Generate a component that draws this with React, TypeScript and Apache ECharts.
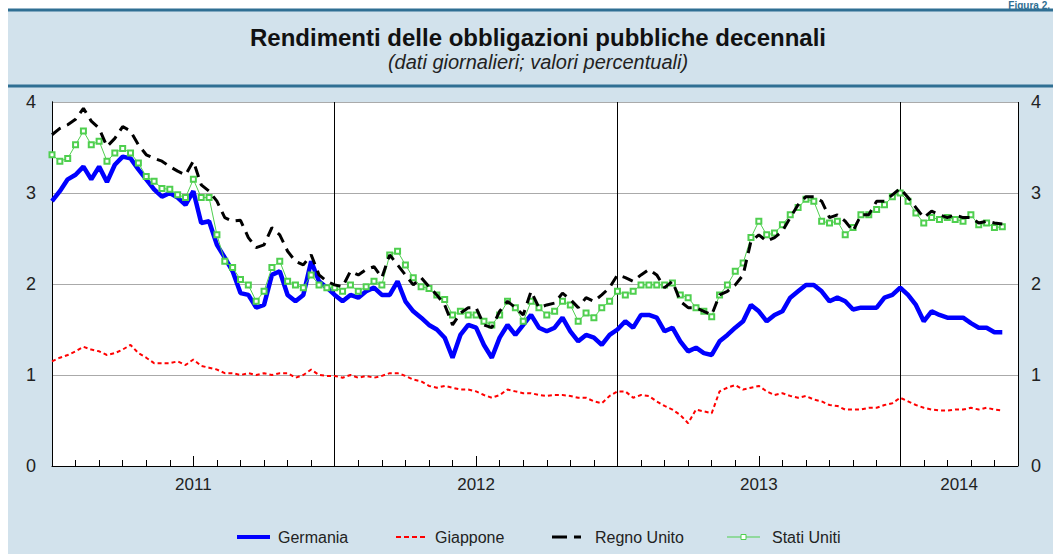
import React, { useEffect, useRef } from "react";
import * as echarts from "echarts";

// sampling points, in months since 1 Jan 2011 (one every third of a month)
const months: number[] = Array.from({ length: 122 }, (_, i) => i / 3);

const yearLabels: Record<string, string> = { "6": "2011", "18": "2012", "30": "2013", "38.5": "2014" };
const yTicks = [0, 1, 2, 3, 4];
const seriesNames = ["Germania", "Giappone", "Regno Unito", "Stati Uniti"];

const germania = [
  2.91, 3.02, 3.15, 3.2, 3.29, 3.15, 3.29, 3.12, 3.31, 3.4, 3.38, 3.26, 3.15, 3.04, 2.96, 3.0, 2.95, 2.87, 3.02, 2.67, 2.69, 2.43, 2.29, 2.14, 1.9,
  1.88, 1.74, 1.77, 2.1, 2.14, 1.88, 1.81, 1.88, 2.25, 2.03, 1.96, 1.88, 1.81, 1.88, 1.85, 1.92, 1.96, 1.88, 1.88, 2.03, 1.81, 1.7, 1.63, 1.55,
  1.5, 1.41, 1.19, 1.44, 1.55, 1.52, 1.33, 1.19, 1.41, 1.55, 1.44, 1.55, 1.66, 1.52, 1.48, 1.52, 1.63, 1.48, 1.37, 1.44, 1.41, 1.33, 1.44, 1.5,
  1.59, 1.52, 1.66, 1.66, 1.63, 1.48, 1.52, 1.37, 1.26, 1.3, 1.24, 1.22, 1.37, 1.44, 1.52, 1.59, 1.77, 1.7, 1.59, 1.66, 1.7, 1.85, 1.92, 1.99,
  1.99, 1.92, 1.81, 1.85, 1.81, 1.72, 1.74, 1.74, 1.74, 1.85, 1.88, 1.96, 1.88, 1.77, 1.59, 1.7, 1.66, 1.63, 1.63, 1.63, 1.57, 1.52, 1.52, 1.47, 1.47,
];
const giappone = [
  1.15, 1.19, 1.22, 1.26, 1.31, 1.28, 1.26, 1.22, 1.24, 1.28, 1.33, 1.24, 1.19, 1.13, 1.13, 1.13, 1.15, 1.11, 1.17, 1.1, 1.08, 1.06, 1.02, 1.02, 1.0,
  1.02, 1.0, 1.02, 1.0, 1.02, 1.02, 0.97, 1.0, 1.06, 1.0, 0.99, 0.99, 0.97, 1.0, 0.97, 0.99, 0.97, 0.99, 1.02, 1.02, 0.99, 0.95, 0.93, 0.88,
  0.86, 0.88, 0.86, 0.84, 0.84, 0.82, 0.78, 0.75, 0.78, 0.84, 0.82, 0.8, 0.8, 0.78, 0.77, 0.78, 0.78, 0.77, 0.75, 0.75, 0.71, 0.69, 0.77, 0.82,
  0.82, 0.75, 0.78, 0.77, 0.71, 0.66, 0.62, 0.56, 0.47, 0.62, 0.6, 0.58, 0.82, 0.86, 0.89, 0.84, 0.86, 0.88, 0.82, 0.78, 0.8, 0.77, 0.75, 0.77,
  0.73, 0.71, 0.67, 0.66, 0.62, 0.62, 0.62, 0.64, 0.64, 0.67, 0.69, 0.75, 0.71, 0.67, 0.64, 0.62, 0.61, 0.61, 0.62, 0.62, 0.64, 0.62, 0.64, 0.62, 0.61,
];
const regnoUnito = [
  3.64, 3.71, 3.75, 3.81, 3.93, 3.79, 3.71, 3.51, 3.6, 3.73, 3.68, 3.53, 3.42, 3.38, 3.35, 3.29, 3.24, 3.2, 3.35, 3.09, 3.02, 2.91, 2.73, 2.69, 2.7,
  2.51, 2.4, 2.43, 2.62, 2.54, 2.36, 2.25, 2.21, 2.32, 2.1, 2.03, 1.99, 1.97, 2.14, 2.1, 2.16, 2.19, 2.07, 2.32, 2.21, 2.1, 1.99, 2.07, 1.97,
  1.88, 1.77, 1.55, 1.68, 1.74, 1.74, 1.55, 1.52, 1.7, 1.81, 1.74, 1.66, 1.92, 1.74, 1.77, 1.79, 1.9, 1.83, 1.74, 1.85, 1.81, 1.88, 1.96, 2.1,
  2.07, 2.03, 2.1, 2.16, 2.1, 1.96, 2.03, 1.81, 1.74, 1.74, 1.7, 1.66, 1.88, 1.92, 1.99, 2.1, 2.47, 2.54, 2.47, 2.51, 2.58, 2.73, 2.87, 2.96,
  2.96, 2.91, 2.73, 2.76, 2.69, 2.58, 2.76, 2.76, 2.91, 2.91, 2.98, 3.05, 2.95, 2.84, 2.73, 2.8, 2.76, 2.73, 2.76, 2.73, 2.73, 2.67, 2.69, 2.67, 2.66,
];
const statiUniti = [
  3.42, 3.35, 3.38, 3.53, 3.68, 3.53, 3.57, 3.35, 3.44, 3.49, 3.44, 3.33, 3.18, 3.13, 3.05, 3.04, 2.98, 2.95, 3.15, 2.95, 2.95, 2.54, 2.25, 2.18, 2.05,
  1.99, 1.81, 1.92, 2.18, 2.25, 2.03, 1.99, 1.96, 2.1, 1.99, 1.96, 1.96, 1.92, 1.99, 1.92, 1.97, 2.03, 1.99, 2.32, 2.36, 2.21, 2.07, 1.97, 1.95,
  1.88, 1.83, 1.66, 1.7, 1.66, 1.66, 1.59, 1.55, 1.66, 1.81, 1.74, 1.59, 1.81, 1.74, 1.66, 1.7, 1.81, 1.77, 1.59, 1.68, 1.63, 1.74, 1.81, 1.92,
  1.88, 1.92, 1.99, 1.99, 1.99, 1.99, 2.01, 1.88, 1.85, 1.74, 1.7, 1.64, 1.88, 1.99, 2.14, 2.23, 2.51, 2.69, 2.54, 2.56, 2.65, 2.76, 2.84, 2.93,
  2.91, 2.69, 2.67, 2.69, 2.54, 2.62, 2.76, 2.76, 2.82, 2.87, 2.96, 3.0, 2.91, 2.78, 2.67, 2.73, 2.71, 2.73, 2.71, 2.69, 2.76, 2.65, 2.67, 2.62, 2.63,
];

const FONT = "'Liberation Sans', Arial, Helvetica, sans-serif";
const PANEL = "#d2e2ec";
const DARKBLUE = "#2f6f93";
const C_DE = "#0000ff";
const C_JP = "#ff0000";
const C_UK = "#000000";
const C_US = "#4fcf4f";

const pairs = (vals: number[]) => vals.map((v, i) => [months[i], v]);

function legendGraphics() {
  const y = 537;
  const txt = (x: number, text: string) => ({
    type: "text", silent: true, x, y,
    style: { text, fill: "#222", font: `16px ${FONT}`, textVerticalAlign: "middle" },
  });
  return [
    { type: "line", silent: true, shape: { x1: 237, y1: y, x2: 270, y2: y }, style: { stroke: C_DE, lineWidth: 4 } },
    txt(278, seriesNames[0]),
    { type: "line", silent: true, shape: { x1: 396, y1: y, x2: 428, y2: y }, style: { stroke: C_JP, lineWidth: 2, lineDash: [5, 3] } },
    txt(435, seriesNames[1]),
    { type: "line", silent: true, shape: { x1: 552, y1: y, x2: 581, y2: y }, style: { stroke: C_UK, lineWidth: 3, lineDash: [15, 7] } },
    txt(595, seriesNames[2]),
    { type: "line", silent: true, shape: { x1: 727, y1: y, x2: 760, y2: y }, style: { stroke: C_US, lineWidth: 1 } },
    { type: "rect", silent: true, shape: { x: 741, y: y - 2.5, width: 5, height: 5 }, style: { fill: "#fff", stroke: C_US, lineWidth: 1 } },
    txt(772, seriesNames[3]),
  ];
}

export default function App() {
  const ref = useRef<HTMLDivElement>(null);
  useEffect(() => {
    if (!ref.current) return;
    const chart = echarts.init(ref.current, undefined, { renderer: "svg" });
    const xBase = { type: "value", min: 0, max: 41, gridIndex: 0, position: "bottom" };
    chart.setOption({
      animation: false,
      textStyle: { fontFamily: FONT },
      graphic: [
        { type: "rect", silent: true, z: -10, shape: { x: 8, y: 10, width: 1045, height: 544 }, style: { fill: PANEL } },
        { type: "line", silent: true, shape: { x1: 8, y1: 10, x2: 1053, y2: 10 }, style: { stroke: DARKBLUE, lineWidth: 3 } },
        { type: "line", silent: true, shape: { x1: 8, y1: 86, x2: 1053, y2: 86 }, style: { stroke: DARKBLUE, lineWidth: 3 } },
        { type: "text", silent: true, x: 1050, y: 0, style: { text: "Figura 2.", fill: DARKBLUE, font: `bold 10px ${FONT}`, textAlign: "right", textVerticalAlign: "top" } },
        { type: "text", silent: true, x: 538, y: 25, style: { text: "Rendimenti delle obbligazioni pubbliche decennali", fill: "#111", font: `bold 24px ${FONT}`, textAlign: "center" } },
        { type: "text", silent: true, x: 538, y: 52, style: { text: "(dati giornalieri; valori percentuali)", fill: "#222", font: `italic 20px ${FONT}`, textAlign: "center" } },
        ...legendGraphics(),
      ],
      grid: { left: 52, right: 35, top: 102, bottom: 88, show: true, backgroundColor: "#fff", borderWidth: 0 },
      xAxis: [
        {
          ...xBase, interval: 0.5,
          axisLine: { show: true, lineStyle: { color: "#000", width: 1 } },
          axisTick: { show: false }, splitLine: { show: false },
          axisLabel: { show: true, fontSize: 17, color: "#222", margin: 10, fontFamily: FONT, formatter: (v: number) => yearLabels[String(v)] || "" },
        },
        {
          ...xBase, interval: 1,
          axisLine: { show: false }, axisLabel: { show: false }, splitLine: { show: false },
          axisTick: { show: true, inside: true, length: 6, lineStyle: { color: "#000", width: 1 } },
        },
        {
          ...xBase, interval: 6,
          axisLine: { show: false }, axisLabel: { show: false }, splitLine: { show: false },
          axisTick: { show: true, inside: true, length: 10, lineStyle: { color: "#000", width: 1 } },
        },
        {
          ...xBase, interval: 12,
          axisLine: { show: false }, axisLabel: { show: false }, axisTick: { show: false },
          splitLine: { show: true, lineStyle: { color: "#000", width: 1 } },
        },
      ],
      yAxis: [
        {
          type: "value", min: yTicks[0], max: yTicks[yTicks.length - 1], interval: 1, position: "left",
          axisLine: { show: true, lineStyle: { color: "#000", width: 1 } }, axisTick: { show: false },
          axisLabel: { fontSize: 18, color: "#222", margin: 16, fontFamily: FONT },
          splitLine: { show: true, lineStyle: { color: "#aaaaaa", width: 1 } },
        },
        {
          type: "value", min: yTicks[0], max: yTicks[yTicks.length - 1], interval: 1, position: "right",
          axisLine: { show: true, lineStyle: { color: "#000", width: 1 } }, axisTick: { show: false },
          axisLabel: { fontSize: 18, color: "#222", margin: 13, fontFamily: FONT },
          splitLine: { show: false },
        },
      ],
      series: [
        {
          name: seriesNames[0], type: "line", xAxisIndex: 0, yAxisIndex: 0, data: pairs(germania),
          symbol: "none", lineStyle: { color: C_DE, width: 4.5 }, itemStyle: { color: C_DE }, z: 2,
        },
        {
          name: seriesNames[1], type: "line", xAxisIndex: 0, yAxisIndex: 0, data: pairs(giappone),
          symbol: "none", lineStyle: { color: C_JP, width: 2, type: [4, 3] }, itemStyle: { color: C_JP }, z: 2,
        },
        {
          name: seriesNames[3], type: "line", xAxisIndex: 0, yAxisIndex: 0, data: pairs(statiUniti),
          symbol: "emptyRect", symbolSize: 5, showSymbol: true, showAllSymbol: true,
          lineStyle: { color: C_US, width: 1 }, itemStyle: { color: C_US, borderWidth: 1 }, z: 3,
        },
        {
          name: seriesNames[2], type: "line", xAxisIndex: 0, yAxisIndex: 0, data: pairs(regnoUnito),
          symbol: "none", lineStyle: { color: C_UK, width: 3, type: [11, 7] }, itemStyle: { color: C_UK }, z: 4,
        },
      ],
    });
    return () => chart.dispose();
  }, []);
  return <div ref={ref} style={{ position: "absolute", left: 0, top: 0, width: 1053, height: 554, background: "#fff" }} />;
}
